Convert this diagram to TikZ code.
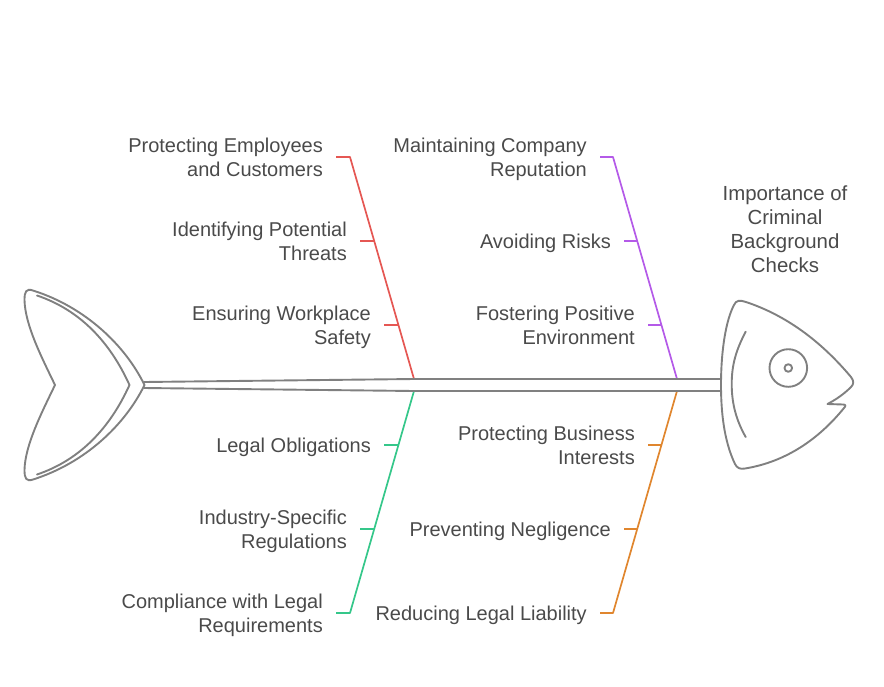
\documentclass[tikz,border=0pt]{standalone}
\usepackage{fontspec}
\setmainfont{Liberation Sans}
\definecolor{txt}{HTML}{4A4A4A}
\definecolor{fishc}{HTML}{808080}
\definecolor{redc}{HTML}{E55753}
\definecolor{purc}{HTML}{B45AE8}
\definecolor{grnc}{HTML}{35C78A}
\definecolor{orgc}{HTML}{E0862E}
\newcommand{\linestrut}{\rule[-6pt]{0pt}{24pt}}
\tikzset{
 lab/.style={anchor=east,align=right,text=txt,inner xsep=13pt,inner ysep=0pt,font=\fontsize{20}{24}\selectfont,
   execute at begin node=\linestrut,execute at end node=\linestrut},
 title/.style={align=center,text=txt,inner sep=0pt,font=\fontsize{20.4}{24}\selectfont,
   execute at begin node=\linestrut,execute at end node=\linestrut},
 fish/.style={draw=fishc,line width=1.9pt,line join=round,line cap=round},
 bone/.style={line width=1.7pt,line join=round}
}
\begin{document}
\begin{tikzpicture}[x=1pt,y=-1pt]
\useasboundingbox (0,0) rectangle (884,686);
% labels
\node[lab] (a1) at (336,160) {Protecting Employees\\and Customers};
\node[lab] (a2) at (360,244) {Identifying Potential\\Threats};
\node[lab] (a3) at (384,328) {Ensuring Workplace\\Safety};
\node[lab] (b1) at (600,160) {Maintaining Company\\Reputation};
\node[lab] (b2) at (624,242) {Avoiding Risks};
\node[lab] (b3) at (648,328) {Fostering Positive\\Environment};
\node[lab] (c1) at (384,446) {Legal Obligations};
\node[lab] (c2) at (360,532) {Industry-Specific\\Regulations};
\node[lab] (c3) at (336,616) {Compliance with Legal\\Requirements};
\node[lab] (d1) at (648,448) {Protecting Business\\Interests};
\node[lab] (d2) at (624,530) {Preventing Negligence};
\node[lab] (d3) at (600,614) {Reducing Legal Liability};
\node[title] (t) at (785,232) {Importance of\\Criminal\\Background\\Checks};
% bone joints
\coordinate (rb) at (414,379); \coordinate (re) at (350,157);
\coordinate (pb) at (677,379); \coordinate (pe) at (613,157);
\coordinate (gb) at (414,391); \coordinate (ge) at (350,613);
\coordinate (ob) at (677,391); \coordinate (oe) at (613,613);
\coordinate (r2) at (374.2,241); \coordinate (r3) at (398.4,325);
\coordinate (p2) at (637.2,241); \coordinate (p3) at (661.4,325);
\coordinate (g1) at (398.4,445); \coordinate (g2) at (374.2,529);
\coordinate (o1) at (661.4,445); \coordinate (o2) at (637.2,529);
\coordinate (sl1) at (144,382); \coordinate (sl2) at (144,388);
\coordinate (sr1) at (721,379); \coordinate (sr2) at (721,391);
% bones
\draw[bone,redc] (a1.east |- re) -- (re) -- (rb);
\draw[bone,redc] (a2.east |- r2) -- (r2);
\draw[bone,redc] (a3.east |- r3) -- (r3);
\draw[bone,purc] (b1.east |- pe) -- (pe) -- (pb);
\draw[bone,purc] (b2.east |- p2) -- (p2);
\draw[bone,purc] (b3.east |- p3) -- (p3);
\draw[bone,grnc] (c3.east |- ge) -- (ge) -- (gb);
\draw[bone,grnc] (c2.east |- g2) -- (g2);
\draw[bone,grnc] (c1.east |- g1) -- (g1);
\draw[bone,orgc] (d3.east |- oe) -- (oe) -- (ob);
\draw[bone,orgc] (d2.east |- o2) -- (o2);
\draw[bone,orgc] (d1.east |- o1) -- (o1);
% spine
\draw[fish,line cap=butt] (sl1) -- (rb) -- (sr1);
\draw[fish,line cap=butt] (sl2) -- (gb) -- (sr2);
% tail
\draw[fish] (144.5,385) .. controls (125,345) and (85,307) .. (33,290.5)
  .. controls (26,288) and (24.5,292) .. (24.5,300)
  .. controls (25,325) and (42,358) .. (55,385)
  .. controls (42,412) and (25,445) .. (24.5,470)
  .. controls (24.5,478) and (26,482) .. (33,479.5)
  .. controls (85,463) and (125,425) .. (144.5,385) -- cycle;
\draw[fish] (37,295.5) .. controls (80,310) and (110,342) .. (129.5,385)
  .. controls (110,428) and (80,460) .. (37,474.5);
% head
\draw[fish] (721,385) .. controls (721,350) and (726,320) .. (734,305)
  .. controls (736,300) and (740,300) .. (746,302)
  .. controls (785,315) and (820,340) .. (851,377)
  .. controls (854,381) and (854,384) .. (851,387)
  .. controls (843,395) and (835,400) .. (827.5,404)
  -- (843,404.5) .. controls (846,404.5) and (846,406) .. (844,408)
  .. controls (818,440) and (785,462) .. (745,468.5)
  .. controls (740,469.5) and (737,468) .. (735,464)
  .. controls (726,445) and (721,420) .. (721,385) -- cycle;
\draw[fish] (745.7,331.7) .. controls (736,350) and (731.7,365) .. (731.7,384)
  .. controls (731.7,403) and (736,420) .. (745.7,437);
\draw[fish] (788.3,368) circle[radius=18.8];
\draw[fish] (788.3,368) circle[radius=3.8];
\end{tikzpicture}
\end{document}
